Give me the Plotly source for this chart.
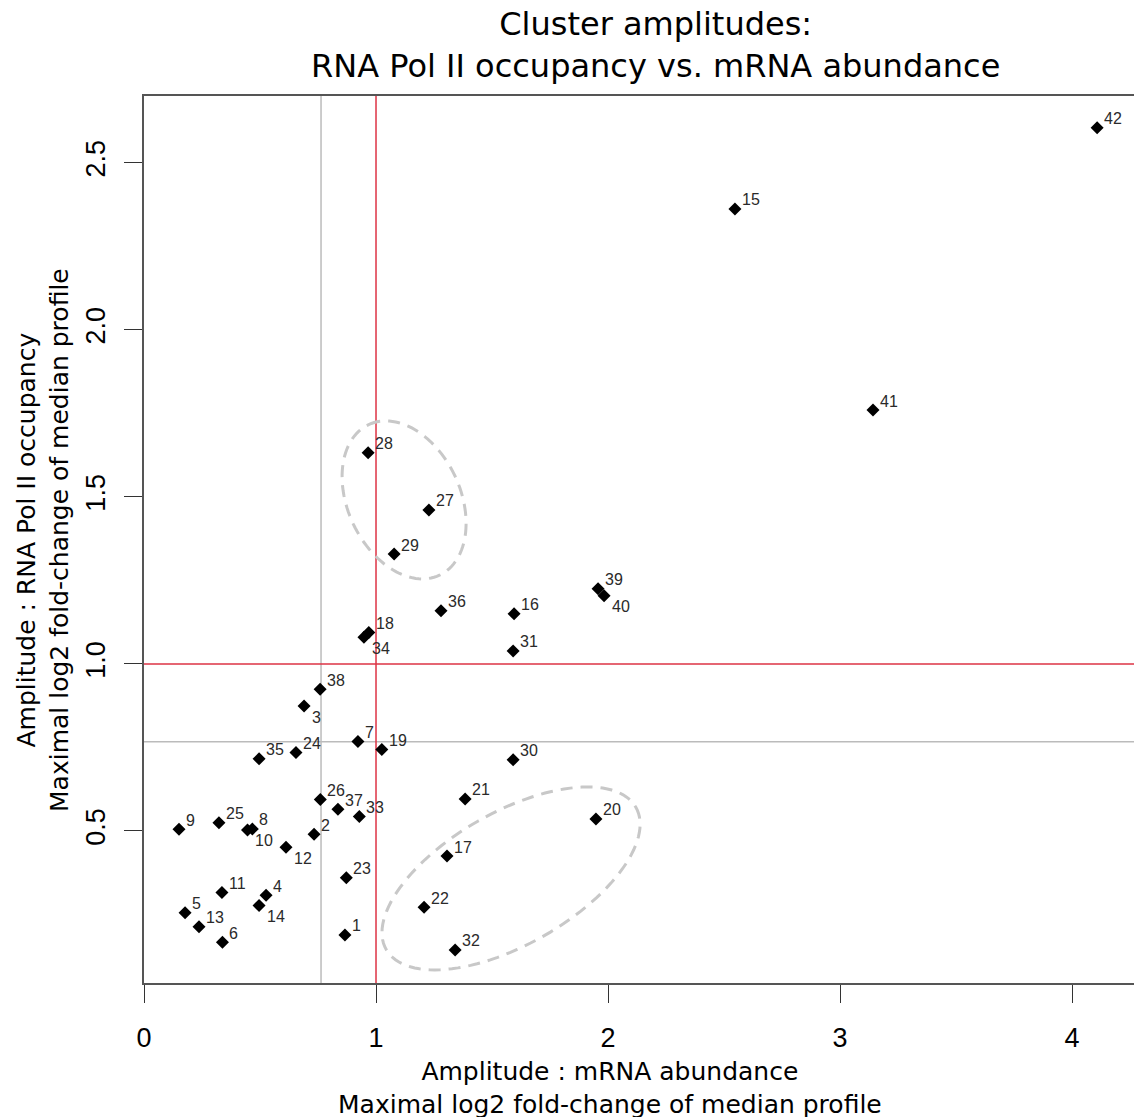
import numpy as np
import plotly.graph_objects as go

# ---- data ----
cluster_ids = [1, 2, 3, 4, 5, 6, 7, 8, 9, 10, 11, 12, 13, 14, 15, 16, 17, 18, 19, 20, 21,
               22, 23, 24, 25, 26, 27, 28, 29, 30, 31, 32, 33, 34, 35, 36, 37, 38, 39, 40, 41, 42]
mrna_amp = [0.866, 0.733, 0.690, 0.526, 0.177, 0.338, 0.922, 0.467, 0.151, 0.446, 0.336, 0.612,
            0.237, 0.496, 2.547, 1.595, 1.306, 0.969, 1.025, 1.948, 1.384, 1.207, 0.872, 0.655,
            0.323, 0.760, 1.228, 0.966, 1.078, 1.591, 1.591, 1.341, 0.928, 0.948, 0.496, 1.280,
            0.836, 0.759, 1.957, 1.983, 3.142, 4.108]
polii_amp = [0.189, 0.490, 0.874, 0.308, 0.255, 0.167, 0.768, 0.506, 0.505, 0.503, 0.316, 0.451,
             0.213, 0.277, 2.362, 1.150, 0.425, 1.094, 0.744, 0.536, 0.596, 0.272, 0.360, 0.735,
             0.525, 0.594, 1.461, 1.632, 1.329, 0.713, 1.039, 0.144, 0.543, 1.080, 0.716, 1.159,
             0.565, 0.924, 1.225, 1.204, 1.760, 2.605]
# labels drawn below-right of their point instead of above-right
labels_below = [3, 10, 12, 14, 34, 40]

x_ticks = [0, 1, 2, 3, 4]
y_ticks = [0.5, 1.0, 1.5, 2.0, 2.5]
y_tick_text = ["0.5", "1.0", "1.5", "2.0", "2.5"]

threshold_red = 1.0
median_x_gray = 0.763
median_y_gray = 0.767

# ellipses: centre, conjugate semi-axis vectors (data units)
ellipse_centres = [(1.121, 1.491), (1.582, 0.358)]
ellipse_u = [(-0.1526, 0.2254), (0.538, 0.213)]
ellipse_v = [(0.2194, 0.0716), (0.1414, -0.172)]

title_text = "Cluster amplitudes:<br>RNA Pol II occupancy vs. mRNA abundance"
x_title = "Amplitude : mRNA abundance<br>Maximal log2 fold-change of median profile"
y_title = "Amplitude : RNA Pol II occupancy<br>Maximal log2 fold-change of median profile"

X_RANGE = [0, 4.267]
Y_RANGE = [0.045, 2.70]

fig = go.Figure()

fig.add_trace(go.Scatter(
    x=mrna_amp, y=polii_amp, mode="markers",
    marker=dict(symbol="diamond", size=10, color="black", line=dict(width=0)),
    hoverinfo="skip", showlegend=False))

annotations = []
for cid, xv, yv in zip(cluster_ids, mrna_amp, polii_amp):
    below = cid in labels_below
    annotations.append(dict(
        x=xv, y=yv, xref="x", yref="y", text=str(cid), showarrow=False,
        xanchor="left", yanchor="middle",
        xshift=6 if below else 5, yshift=-11 if below else 9,
        font=dict(family="Liberation Sans", size=16, color="#2a2a2a")))

annotations.append(dict(x=(655 - 144) / 990, y=(983 - 45) / 887, xref="paper", yref="paper",
                        text=title_text, showarrow=False, xanchor="center", yanchor="middle",
                        font=dict(family="DejaVu Sans", size=32, color="black")))
annotations.append(dict(x=(610 - 144) / 990, y=(983 - 1088) / 887, xref="paper", yref="paper",
                        text=x_title, showarrow=False, xanchor="center", yanchor="middle",
                        font=dict(family="DejaVu Sans", size=25, color="black")))
annotations.append(dict(x=(43 - 144) / 990, y=(983 - 540) / 887, xref="paper", yref="paper",
                        text=y_title, showarrow=False, xanchor="center", yanchor="middle",
                        textangle=-90,
                        font=dict(family="DejaVu Sans", size=25, color="black")))

shapes = []
# reference lines
shapes.append(dict(type="line", xref="x", yref="paper", x0=median_x_gray, x1=median_x_gray, y0=0, y1=1,
                   line=dict(color="#bbbbbb", width=1.5), layer="below"))
shapes.append(dict(type="line", xref="paper", yref="y", x0=0, x1=1, y0=median_y_gray, y1=median_y_gray,
                   line=dict(color="#bbbbbb", width=1.5), layer="below"))
shapes.append(dict(type="line", xref="x", yref="paper", x0=threshold_red, x1=threshold_red, y0=0, y1=1,
                   line=dict(color="#dd3344", width=1.5), layer="below"))
shapes.append(dict(type="line", xref="paper", yref="y", x0=0, x1=1, y0=threshold_red, y1=threshold_red,
                   line=dict(color="#dd3344", width=1.5), layer="below"))

t = np.linspace(0, 2 * np.pi, 121)
for (cx, cy), (ux, uy), (vx, vy) in zip(ellipse_centres, ellipse_u, ellipse_v):
    ex = cx + ux * np.cos(t) + vx * np.sin(t)
    ey = cy + uy * np.cos(t) + vy * np.sin(t)
    path = "M " + " L ".join(f"{a:.4f},{b:.4f}" for a, b in zip(ex, ey)) + " Z"
    shapes.append(dict(type="path", xref="x", yref="y", path=path,
                       line=dict(color="#c8c8c8", width=3, dash="12px,8px"), layer="below"))

fig.update_layout(
    width=1134, height=1117,
    margin=dict(l=144, r=0, t=96, b=134),
    paper_bgcolor="white", plot_bgcolor="white",
    showlegend=False,
    annotations=annotations, shapes=shapes,
    xaxis=dict(range=X_RANGE, tickvals=x_ticks, ticks="outside", ticklen=18, tickwidth=1.2,
               tickcolor="#333333", showline=True, linecolor="#555555", linewidth=2,
               mirror=True, showgrid=False, zeroline=False, ticklabelstandoff=12,
               tickfont=dict(family="Liberation Sans", size=27, color="black")),
    yaxis=dict(range=Y_RANGE, tickvals=y_ticks, ticktext=y_tick_text, ticks="outside", ticklen=18,
               tickwidth=1.2, tickcolor="#333333", showline=True, linecolor="#555555", linewidth=2,
               mirror=False, showgrid=False, zeroline=False, tickangle=-90, ticklabelstandoff=8,
               tickfont=dict(family="Liberation Sans", size=27, color="black")),
)

fig.write_html("out.html")
